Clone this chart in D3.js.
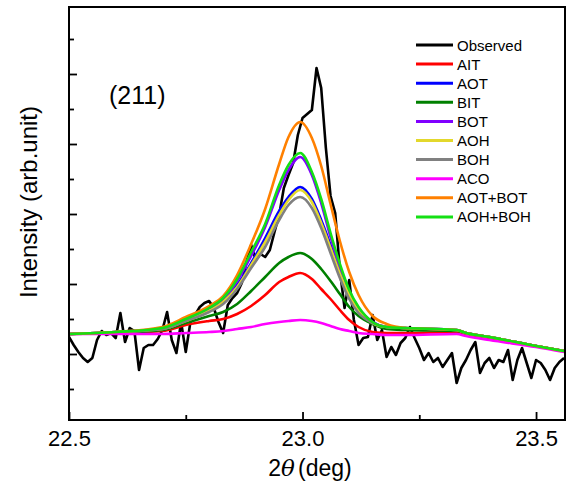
<!DOCTYPE html>
<html>
<head>
<meta charset="utf-8">
<script src="https://cdn.jsdelivr.net/npm/d3@7/dist/d3.min.js"></script>
<style>
  body { margin: 0; background: #fff; }
  text { font-family: Arial, "Liberation Sans", sans-serif; fill: #000; }
</style>
</head>
<body>
<svg id="chart" width="567" height="483"></svg>
<script>
// measured 2θ grid of the scan (deg)
const obsX = [
  22.50, 22.51, 22.52, 22.53, 22.54, 22.55, 22.56, 22.57, 22.58, 22.59,
  22.60, 22.61, 22.62, 22.63, 22.64, 22.65, 22.66, 22.67, 22.68, 22.69,
  22.70, 22.71, 22.72, 22.73, 22.74, 22.75, 22.76, 22.77, 22.78, 22.79,
  22.80, 22.81, 22.82, 22.83, 22.84, 22.85, 22.86, 22.87, 22.88, 22.89,
  22.90, 22.91, 22.92, 22.93, 22.94, 22.95, 22.96, 22.97, 22.98, 22.99,
  23.00, 23.01, 23.02, 23.03, 23.04, 23.05, 23.06, 23.07, 23.08, 23.09,
  23.10, 23.11, 23.12, 23.13, 23.14, 23.15, 23.16, 23.17, 23.18, 23.19,
  23.20, 23.21, 23.22, 23.23, 23.24, 23.25, 23.26, 23.27, 23.28, 23.29,
  23.30, 23.31, 23.32, 23.33, 23.34, 23.35, 23.36, 23.37, 23.38, 23.39,
  23.40, 23.41, 23.42, 23.43, 23.44, 23.45, 23.46, 23.47, 23.48, 23.49,
  23.50, 23.51, 23.52, 23.53, 23.54, 23.55, 23.56
];
// observed intensity (arb. unit)
const observed = [
   87,  79,  72,  66,  62,  66,  84,  93,  89,  91,
   86, 111,  82,  96,  93,  54,  76,  79,  79,  85,
   94, 112,  84,  71, 102,  72, 102, 109, 117, 121,
  123, 116, 102,  91, 119, 126, 131, 141, 162, 179,
  164, 170, 167, 174, 192, 209, 236, 249, 261, 289,
  306, 310, 314, 356, 336, 276, 228, 211, 154, 116,
  144, 104,  79,  86,  87, 109,  84,  94,  67,  77,
   69,  81,  86,  97,  86,  76,  64,  71,  62,  66,
   57,  64,  71,  41,  56,  64,  74,  82,  51,  61,
   66,  56,  64,  62,  74,  44,  64,  76,  61,  46,
   64,  61,  54,  44,  56,  62,  66
];

// 2θ points where the fitted profiles were read
const fitX = [22.50, 22.60, 22.70, 22.75, 22.80, 22.83, 22.86, 22.89, 22.92, 22.95,
              22.97, 22.995, 23.02, 23.04, 23.06, 23.08, 23.10, 23.12, 23.15, 23.18,
              23.22, 23.33, 23.35, 23.40, 23.50, 23.56];
const ait    = [90, 91, 93, 99, 103, 105, 110, 118, 129, 142, 147, 151, 145, 135, 125, 114, 104, 97, 92, 91, 91, 92, 90, 86, 78, 73];
const aot    = [90, 92, 95, 104, 114, 123, 139, 161, 186, 213, 227, 237, 225, 204, 179, 153, 131, 115, 102, 97, 96, 94, 91, 87, 78, 73];
const bit    = [90, 91, 94, 101, 108, 112, 120, 133, 147, 161, 167, 171, 165, 155, 143, 130, 117, 108, 100, 95, 94, 93, 91, 87, 78, 73];
const bot    = [90, 92, 96, 105, 115, 124, 143, 168, 197, 234, 254, 267, 249, 221, 187, 157, 132, 116, 102, 97, 96, 94, 91, 87, 78, 73];
const aoh    = [90, 92, 95, 103, 113, 122, 137, 159, 182, 209, 224, 234, 222, 201, 176, 150, 129, 113, 101, 97, 96, 94, 91, 87, 78, 73];
const boh    = [90, 92, 95, 103, 112, 120, 135, 156, 177, 204, 219, 227, 216, 196, 171, 146, 125, 111, 101, 97, 96, 94, 91, 87, 78, 73];
const aco    = [90, 90, 90, 91, 92, 93, 95, 97, 100, 102, 103, 104, 103, 101, 98, 95, 93, 91, 90, 89, 89, 90, 88, 84, 77, 72];
const aotBot = [90, 92, 97, 107, 118, 128, 149, 180, 215, 260, 287, 302, 286, 258, 220, 183, 152, 129, 108, 100, 96, 94, 91, 87, 78, 73];
const aohBoh = [90, 92, 96, 105, 116, 126, 145, 172, 200, 239, 259, 271, 252, 225, 191, 160, 134, 117, 102, 97, 96, 94, 91, 87, 78, 73];

const seriesNames = ["AIT", "AOT", "BIT", "BOT", "AOH", "BOH", "ACO", "AOT+BOT", "AOH+BOH"];
const seriesValues = [ait, aot, bit, bot, aoh, boh, aco, aotBot, aohBoh];

const xMajor = [22.5, 23.0, 23.5];
const xMinor = [22.75, 23.25];
const yMajor = [70, 140, 210, 280, 350];
const yMinor = [35, 105, 175, 245, 315, 385];

// colours
const colors = {
  "Observed": "#000000",
  "AIT": "#ff0000",
  "AOT": "#0000ff",
  "BIT": "#008000",
  "BOT": "#8000ff",
  "AOH": "#e3d82c",
  "BOH": "#808080",
  "ACO": "#ff00ff",
  "AOT+BOT": "#ff8000",
  "AOH+BOH": "#14e014"
};

const svg = d3.select("#chart");
const plotL = 69, plotR = 565, plotT = 7, plotB = 420;

const x = d3.scaleLinear().domain([22.5, 23.562]).range([plotL, plotR]);
const y = d3.scaleLinear().domain([4, 417]).range([plotB, plotT]);

svg.append("defs").append("clipPath").attr("id", "clip")
  .append("rect")
  .attr("x", plotL).attr("y", plotT)
  .attr("width", plotR - plotL).attr("height", plotB - plotT);

const plot = svg.append("g").attr("clip-path", "url(#clip)");

// observed scan
plot.append("path")
  .datum(obsX.map((d, i) => [d, observed[i]]))
  .attr("fill", "none")
  .attr("stroke", colors["Observed"])
  .attr("stroke-width", 2.6)
  .attr("stroke-linejoin", "round")
  .attr("d", d3.line().x(d => x(d[0])).y(d => y(d[1])));

// fitted profiles
const fitLine = d3.line()
  .x(d => x(d[0]))
  .y(d => y(d[1]))
  .curve(d3.curveMonotoneX);

seriesNames.forEach((name, k) => {
  plot.append("path")
    .datum(fitX.map((d, i) => [d, seriesValues[k][i]]))
    .attr("fill", "none")
    .attr("stroke", colors[name])
    .attr("stroke-width", 2.6)
    .attr("d", fitLine);
});

// axes, ticks pointing inward
const xAxis = svg.append("g")
  .attr("transform", `translate(0,${plotB})`)
  .call(d3.axisBottom(x).tickValues(xMajor).tickSizeInner(-8).tickSizeOuter(0)
    .tickPadding(10).tickFormat(d3.format(".1f")));
svg.append("g")
  .attr("transform", `translate(0,${plotB})`)
  .call(d3.axisBottom(x).tickValues(xMinor).tickSize(-5).tickFormat(""));

svg.append("g")
  .attr("transform", `translate(${plotL},0)`)
  .call(d3.axisLeft(y).tickValues(yMajor).tickSizeInner(-8).tickSizeOuter(0).tickFormat(""));
svg.append("g")
  .attr("transform", `translate(${plotL},0)`)
  .call(d3.axisLeft(y).tickValues(yMinor).tickSize(-5).tickFormat(""));

svg.selectAll(".domain").remove();
svg.selectAll(".tick line").attr("stroke", "#000").attr("stroke-width", 1.8);
xAxis.selectAll(".tick text")
  .attr("font-size", 22)
  .attr("font-family", "Arial, 'Liberation Sans', sans-serif")
  .attr("fill", "#000");

// frame
svg.append("rect")
  .attr("x", plotL).attr("y", plotT)
  .attr("width", plotR - plotL).attr("height", plotB - plotT)
  .attr("fill", "none")
  .attr("stroke", "#000")
  .attr("stroke-width", 2);

// labels
svg.append("text")
  .attr("x", 109).attr("y", 104)
  .attr("font-size", 25)
  .text("(211)");

svg.append("text")
  .attr("transform", "translate(37,202) rotate(-90)")
  .attr("text-anchor", "middle")
  .attr("font-size", 24)
  .text("Intensity (arb.unit)");

const xt = svg.append("text")
  .attr("x", 310).attr("y", 476)
  .attr("text-anchor", "middle")
  .attr("font-size", 23);
xt.append("tspan").text("2");
xt.append("tspan").attr("font-style", "italic").attr("font-family", "'DejaVu Serif', serif").text("θ");
xt.append("tspan").attr("dx", 3).text("(deg)");

// legend
const legendNames = ["Observed"].concat(seriesNames);
const legend = svg.append("g");
legendNames.forEach((name, i) => {
  const ly = 45 + i * 19.1;
  legend.append("line")
    .attr("x1", 416).attr("x2", 453)
    .attr("y1", ly).attr("y2", ly)
    .attr("stroke", colors[name])
    .attr("stroke-width", 3);
  legend.append("text")
    .attr("x", 457).attr("y", ly + 5.5)
    .attr("font-size", 15)
    .text(name);
});
</script>
</body>
</html>
